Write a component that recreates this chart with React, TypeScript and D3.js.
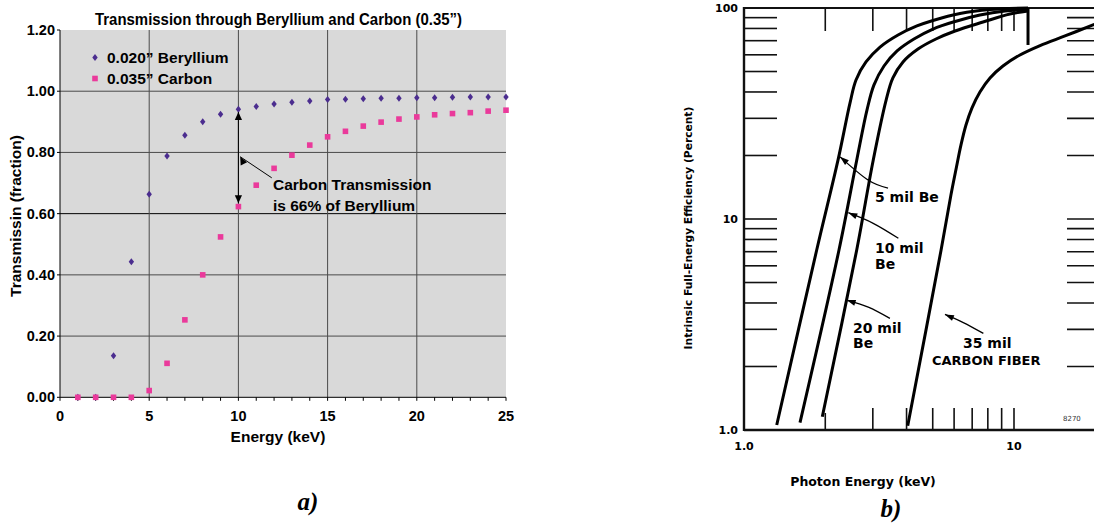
import React, { useRef, useEffect } from "react";
import * as d3 from "d3";

// ---- panel a: transmission vs energy ----
const energyKeV = [1, 2, 3, 4, 5, 6, 7, 8, 9, 10, 11, 12, 13, 14, 15, 16, 17, 18, 19, 20, 21, 22, 23, 24, 25];
const berylliumT = [0, 0, 0.136, 0.443, 0.663, 0.788, 0.856, 0.9, 0.925, 0.941, 0.95, 0.958, 0.964, 0.968, 0.973, 0.974, 0.975, 0.977, 0.977, 0.979, 0.979, 0.98, 0.981, 0.981, 0.981];
const carbonT = [0, 0, 0, 0, 0.022, 0.111, 0.253, 0.4, 0.524, 0.623, 0.693, 0.748, 0.791, 0.824, 0.851, 0.869, 0.886, 0.899, 0.909, 0.916, 0.923, 0.927, 0.93, 0.935, 0.938];
const yTicksA = [0, 0.2, 0.4, 0.6, 0.8, 1.0, 1.2];
const xTicksA = [0, 5, 10, 15, 20, 25];
const legendA = ["0.020\u201d Beryllium", "0.035\u201d Carbon"];

// ---- panel b: efficiency vs photon energy (log-log) ----
const be5E = [1.322, 1.859, 2.229, 2.47, 2.599, 2.83, 3.19, 3.72, 4.37, 5.01, 6.31, 8.15, 11.27];
const be5P = [1.056, 7.13, 19.0, 35.5, 45.6, 55.5, 65.3, 74.5, 82.2, 87.3, 94.2, 98.4, 100];
const be10E = [1.612, 2.248, 2.615, 2.855, 3.03, 3.3, 3.69, 4.26, 5.01, 6.05, 7.48, 9.26, 11.27];
const be10P = [1.083, 7.13, 19.0, 32.9, 43.2, 53.1, 62.6, 71.3, 79.5, 86.3, 92.6, 96.8, 98.4];
const be20E = [1.95, 2.615, 3.01, 3.36, 3.56, 3.88, 4.41, 5.14, 6.05, 7.68, 9.66, 11.27];
const be20P = [1.156, 7.13, 19.0, 36.6, 46.6, 55.5, 63.9, 71.3, 77.8, 85.8, 93.7, 96.8];
const carbonE = [4.04, 5.37, 5.84, 6.12, 6.36, 6.64, 6.99, 7.48, 8.15, 9.1, 10.52, 12.49, 15.45, 19.62, 21];
const carbonP = [1.048, 7.13, 13.0, 17.6, 22.4, 27.9, 33.6, 40.0, 46.6, 53.1, 59.9, 66.4, 73.7, 83.1, 85.8];
const minorTicksB = [2, 3, 4, 5, 6, 7, 8, 9, 10, 20, 30, 40, 50, 60, 70, 80, 90];
const xMinorB = [2, 3, 4, 5, 6, 7, 8, 9, 10];
const yLabelsB = [1, 10, 100];
const xLabelsB = [1, 10];

// pointer arrows: [start, bend, tip] in (keV, percent)
const pointersB = [
  [[3.415, 14.0], [2.88, 15.3], [2.268, 19.7]],
  [[3.73, 8.1], [3.01, 9.54], [2.434, 10.71]],
  [[3.47, 3.38], [2.886, 3.82], [2.4, 4.13]],
  [[7.7, 2.87], [6.49, 3.23], [5.55, 3.53]],
];

const sansA = "'Liberation Sans', Arial, sans-serif";
const sansB = "'DejaVu Sans', sans-serif";

const App = () => {
  const svgRef = useRef(null);

  useEffect(() => {
    const svg = d3.select(svgRef.current);
    svg.selectAll("*").remove();

    // ================= panel a =================
    const x = d3.scaleLinear().domain([0, 25]).range([60, 506]);
    const y = d3.scaleLinear().domain([0, 1.2]).range([397.3, 30]);
    const a = svg.append("g");

    a.append("rect")
      .attr("x", x(0)).attr("y", y(1.2))
      .attr("width", x(25) - x(0)).attr("height", y(0) - y(1.2))
      .attr("fill", "#d9d9d9");

    a.selectAll(".hg").data(yTicksA.filter((d) => d > 0 && d < 1.2)).enter()
      .append("line")
      .attr("x1", x(0)).attr("x2", x(25))
      .attr("y1", (d) => y(d)).attr("y2", (d) => y(d))
      .attr("stroke", (d) => (Math.abs(d - 0.6) < 1e-6 ? "#000" : "#4a4a4a"))
      .attr("stroke-width", 1);

    a.selectAll(".vg").data(xTicksA.filter((d) => d > 0 && d < 25)).enter()
      .append("line")
      .attr("x1", (d) => x(d)).attr("x2", (d) => x(d))
      .attr("y1", y(1.2)).attr("y2", y(0))
      .attr("stroke", "#4a4a4a").attr("stroke-width", 1);

    // axes
    a.append("line").attr("x1", x(0)).attr("x2", x(0)).attr("y1", y(1.2)).attr("y2", y(0)).attr("stroke", "#000");
    a.append("line").attr("x1", x(0)).attr("x2", x(25)).attr("y1", y(0)).attr("y2", y(0)).attr("stroke", "#000");
    a.selectAll(".xt").data(d3.range(0, 26)).enter().append("line")
      .attr("x1", (d) => x(d)).attr("x2", (d) => x(d))
      .attr("y1", y(0)).attr("y2", y(0) + 3.5).attr("stroke", "#000");
    a.selectAll(".yt").data(yTicksA).enter().append("line")
      .attr("x1", x(0) - 3).attr("x2", x(0))
      .attr("y1", (d) => y(d)).attr("y2", (d) => y(d)).attr("stroke", "#000");

    a.selectAll(".yl").data(yTicksA).enter().append("text")
      .attr("x", x(0) - 5).attr("y", (d) => y(d) + 5)
      .attr("text-anchor", "end")
      .style("font", `bold 14.5px ${sansA}`)
      .text((d) => d3.format(".2f")(d));
    a.selectAll(".xl").data(xTicksA).enter().append("text")
      .attr("x", (d) => x(d)).attr("y", 421)
      .attr("text-anchor", "middle")
      .style("font", `bold 14.5px ${sansA}`)
      .text((d) => d);

    a.append("text").attr("x", 278.5).attr("y", 25)
      .attr("text-anchor", "middle")
      .attr("textLength", 367).attr("lengthAdjust", "spacingAndGlyphs")
      .style("font", `bold 16px ${sansA}`)
      .text("Transmission through Beryllium and Carbon (0.35\u201d)");
    a.append("text").attr("x", 278).attr("y", 442)
      .attr("text-anchor", "middle")
      .style("font", `bold 15.5px ${sansA}`)
      .text("Energy (keV)");
    a.append("text")
      .attr("transform", "translate(21,216) rotate(-90)")
      .attr("text-anchor", "middle")
      .style("font", `bold 15.5px ${sansA}`)
      .text("Transmissin (fraction)");

    const diamond = (cx, cy) => `M${cx},${cy - 3.5}L${cx + 2.7},${cy}L${cx},${cy + 3.5}L${cx - 2.7},${cy}Z`;
    const beColor = "#4b2d8f";
    const cColor = "#ea3a9b";

    a.selectAll(".be").data(energyKeV).enter().append("path")
      .attr("d", (d, i) => diamond(x(d), y(berylliumT[i])))
      .attr("fill", beColor);
    a.selectAll(".c").data(energyKeV).enter().append("rect")
      .attr("x", (d) => x(d) - 2.8)
      .attr("y", (d, i) => y(carbonT[i]) - 2.8)
      .attr("width", 5.6).attr("height", 5.6)
      .attr("fill", cColor);

    // legend
    a.append("path").attr("d", diamond(95, 57.5)).attr("fill", beColor);
    a.append("rect").attr("x", 92.2).attr("y", 75.7).attr("width", 5.6).attr("height", 5.6).attr("fill", cColor);
    legendA.forEach((t, i) => {
      a.append("text").attr("x", 107).attr("y", 63 + i * 21)
        .style("font", `bold 15.5px ${sansA}`).text(t);
    });

    // annotation
    const tri = (tx, ty, ang) => {
      const L = 8, W = 3.6;
      const bx = tx - L * Math.cos(ang), by = ty - L * Math.sin(ang);
      const px = -Math.sin(ang) * W, py = Math.cos(ang) * W;
      return `M${tx},${ty}L${bx + px},${by + py}L${bx - px},${by - py}Z`;
    };
    const upTip = [x(10), y(0.932)];
    const dnTip = [x(10), y(0.634)];
    a.append("line").attr("x1", upTip[0]).attr("x2", dnTip[0]).attr("y1", upTip[1]).attr("y2", dnTip[1])
      .attr("stroke", "#000").attr("stroke-width", 1);
    a.append("path").attr("d", tri(upTip[0], upTip[1], -Math.PI / 2)).attr("fill", "#000");
    a.append("path").attr("d", tri(dnTip[0], dnTip[1], Math.PI / 2)).attr("fill", "#000");
    const s0 = [x(11.87), y(0.717)];
    const s1 = [x(10.1), y(0.786)];
    a.append("line").attr("x1", s0[0]).attr("y1", s0[1]).attr("x2", s1[0]).attr("y2", s1[1])
      .attr("stroke", "#000").attr("stroke-width", 1);
    a.append("path").attr("d", tri(s1[0], s1[1], Math.atan2(s1[1] - s0[1], s1[0] - s0[0]) + 0.5)).attr("fill", "#000");
    a.append("text").attr("x", 273).attr("y", 190).style("font", `bold 15.5px ${sansA}`).text("Carbon Transmission");
    a.append("text").attr("x", 273).attr("y", 211).style("font", `bold 15.5px ${sansA}`).text("is 66% of Beryllium");

    svg.append("text").attr("x", 308).attr("y", 510)
      .attr("text-anchor", "middle")
      .style("font", "italic bold 25px 'Liberation Serif', 'Times New Roman', serif")
      .text("a)");

    // ================= panel b =================
    const xb = d3.scaleLog().domain([1, 21]).range([744, 744 + 270 * Math.log10(21)]);
    const yb = d3.scaleLog().domain([1, 100]).range([430, 8]);
    const b = svg.append("g");
    const ink = "#111";

    // ticks
    b.selectAll(".lt").data(minorTicksB).enter().append("line")
      .attr("x1", 745).attr("x2", 777)
      .attr("y1", (d) => yb(d)).attr("y2", (d) => yb(d))
      .attr("stroke", ink).attr("stroke-width", 1.6);
    b.selectAll(".rt").data(minorTicksB).enter().append("line")
      .attr("x1", xb(21) - 34).attr("x2", xb(21))
      .attr("y1", (d) => yb(d)).attr("y2", (d) => yb(d))
      .attr("stroke", ink).attr("stroke-width", 1.6);
    b.selectAll(".tt").data(xMinorB).enter().append("line")
      .attr("x1", (d) => xb(d)).attr("x2", (d) => xb(d))
      .attr("y1", yb(100)).attr("y2", yb(100) + 23)
      .attr("stroke", ink).attr("stroke-width", 1.6);
    b.selectAll(".bt").data(xMinorB).enter().append("line")
      .attr("x1", (d) => xb(d)).attr("x2", (d) => xb(d))
      .attr("y1", yb(1)).attr("y2", (d) => yb(1) - (d === 2 ? 17 : 22))
      .attr("stroke", ink).attr("stroke-width", 1.6);

    // frame
    b.append("line").attr("x1", 744).attr("x2", 1094).attr("y1", yb(100)).attr("y2", yb(100)).attr("stroke", ink).attr("stroke-width", 2);
    b.append("line").attr("x1", 744).attr("x2", 1094).attr("y1", yb(1)).attr("y2", yb(1)).attr("stroke", ink).attr("stroke-width", 2.6);
    b.append("line").attr("x1", 744).attr("x2", 744).attr("y1", yb(100) - 1).attr("y2", yb(1) + 1).attr("stroke", ink).attr("stroke-width", 2.4);

    // curves
    const line = d3.line().x((d) => xb(d[0])).y((d) => yb(d[1])).curve(d3.curveCatmullRom.alpha(0.5));
    const series = [
      [be5E, be5P],
      [be10E, be10P],
      [be20E, be20P],
      [carbonE, carbonP],
    ];
    series.forEach(([es, ps]) => {
      b.append("path")
        .attr("d", line(es.map((e, i) => [e, ps[i]])))
        .attr("fill", "none").attr("stroke", "#000").attr("stroke-width", 3)
        .attr("stroke-linejoin", "round");
    });
    // end cap of the Be curves
    b.append("line")
      .attr("x1", xb(be5E[be5E.length - 1])).attr("x2", xb(be5E[be5E.length - 1]))
      .attr("y1", yb(100)).attr("y2", yb(66.8))
      .attr("stroke", "#000").attr("stroke-width", 3);

    // pointers
    const pl = d3.line().x((d) => xb(d[0])).y((d) => yb(d[1])).curve(d3.curveNatural);
    pointersB.forEach((p) => {
      b.append("path").attr("d", pl(p)).attr("fill", "none").attr("stroke", "#000").attr("stroke-width", 1.3);
      const tip = [xb(p[2][0]), yb(p[2][1])];
      const prev = [xb(p[1][0]), yb(p[1][1])];
      const ang = Math.atan2(tip[1] - prev[1], tip[0] - prev[0]);
      const L = 9, W = 3;
      const bx = tip[0] - L * Math.cos(ang), by = tip[1] - L * Math.sin(ang);
      const px = -Math.sin(ang) * W, py = Math.cos(ang) * W;
      b.append("path").attr("d", `M${tip[0]},${tip[1]}L${bx + px},${by + py}L${bx - px},${by - py}Z`).attr("fill", "#000");
    });

    const lab = (t, lx, ly, size = 14) =>
      b.append("text").attr("x", lx).attr("y", ly).style("font", `bold ${size}px ${sansB}`).text(t);
    lab("5 mil Be", 875, 202);
    lab("10 mil", 875, 253);
    lab("Be", 875, 269);
    lab("20 mil", 853, 333);
    lab("Be", 853, 348);
    lab("35 mil", 963, 348);
    lab("CARBON FIBER", 932, 365, 13);

    b.selectAll(".ylb").data(yLabelsB).enter().append("text")
      .attr("x", 738).attr("y", (d) => yb(d) + 4)
      .attr("text-anchor", "end")
      .style("font", `bold 11px ${sansB}`)
      .text((d) => (d === 1 ? "1.0" : d));
    b.selectAll(".xlb").data(xLabelsB).enter().append("text")
      .attr("x", (d) => xb(d)).attr("y", 450)
      .attr("text-anchor", "middle")
      .style("font", `bold 11px ${sansB}`)
      .text((d) => (d === 1 ? "1.0" : d));
    b.append("text").attr("x", 863).attr("y", 486)
      .attr("text-anchor", "middle")
      .style("font", `bold 12.5px ${sansB}`)
      .text("Photon Energy (keV)");
    b.append("text")
      .attr("transform", "translate(692,228) rotate(-90)")
      .attr("text-anchor", "middle")
      .style("font", `bold 10.7px ${sansB}`)
      .text("Intrinsic Full-Energy Efficiency (Percent)");
    b.append("text").attr("x", 1063).attr("y", 421)
      .style("font", `7px ${sansB}`).attr("fill", "#333").text("8270");

    svg.append("text").attr("x", 891).attr("y", 517)
      .attr("text-anchor", "middle")
      .style("font", "italic bold 25px 'Liberation Serif', 'Times New Roman', serif")
      .text("b)");
  }, []);

  return (
    <svg
      ref={svgRef}
      width={1094}
      height={525}
      style={{ position: "absolute", left: 0, top: 0, background: "#fff" }}
    />
  );
};

export default App;
